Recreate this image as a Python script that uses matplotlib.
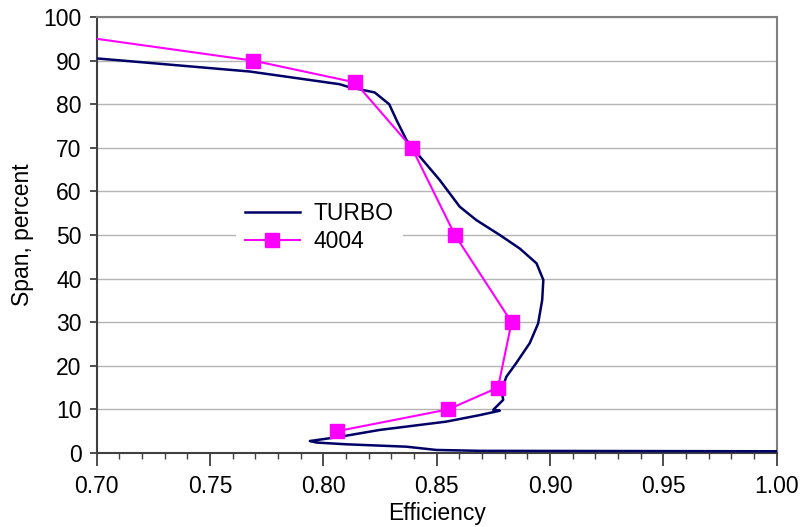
"""Spanwise efficiency: TURBO vs 4004."""

import matplotlib

matplotlib.use("Agg")
import matplotlib.pyplot as plt
from matplotlib.ticker import FormatStrFormatter, MultipleLocator

plt.rcParams["font.family"] = ["Liberation Sans", "DejaVu Sans"]

turbo_eff = [0.700, 0.7115, 0.7675, 0.807, 0.8115, 0.8226, 0.829, 0.8322,
             0.8366, 0.8425, 0.8513, 0.8601, 0.8675, 0.8778, 0.8866, 0.894,
             0.897, 0.8965, 0.8947, 0.891, 0.885, 0.8807, 0.8785, 0.8793,
             0.8749, 0.8778, 0.869, 0.8542, 0.8249, 0.807, 0.794, 0.797,
             0.810, 0.8366, 0.8498, 0.869, 1.000]
turbo_span = [90.5, 90.0, 87.5, 84.6, 83.9, 82.7, 80.0, 76.4,
              71.8, 68.0, 62.6, 56.5, 53.4, 50.0, 46.9, 43.5,
              39.7, 35.1, 29.7, 25.2, 20.6, 17.5, 14.4, 12.2,
              9.9, 9.7, 8.7, 7.2, 5.3, 3.7, 2.75, 2.4,
              2.0, 1.45, 0.7, 0.5, 0.4]

r4004_eff = [0.631, 0.769, 0.814, 0.839, 0.858, 0.883, 0.877, 0.855, 0.806]
r4004_span = [100, 90, 85, 70, 50, 30, 15, 10, 5]

fig = plt.figure(figsize=(8, 5.27), dpi=100)
ax = fig.add_axes([0.121, 0.1404, 0.850, 0.8273])

ax.plot(turbo_eff, turbo_span, color="#000066", lw=1.8, label="TURBO",
        zorder=3)
ax.plot(r4004_eff, r4004_span, color="#ff00ff", lw=1.5, marker="s",
        markersize=10.5, label="4004", zorder=4)

ax.set_xlim(0.70, 1.00)
ax.set_ylim(0, 100)
ax.xaxis.set_major_locator(MultipleLocator(0.05))
ax.xaxis.set_minor_locator(MultipleLocator(0.01))
ax.yaxis.set_major_locator(MultipleLocator(10))
ax.xaxis.set_major_formatter(FormatStrFormatter("%.2f"))

ax.grid(axis="y", color="#b4b4b4", lw=1.0)
ax.set_axisbelow(True)
for s in ax.spines.values():
    s.set_color("#808080")
    s.set_linewidth(1.5)
ax.spines["bottom"].set_color("#404040")
ax.spines["left"].set_color("#404040")

ax.tick_params(axis="x", which="major", direction="out", length=9,
               width=1.3, pad=7, labelsize=16.5, color="#404040")
ax.tick_params(axis="y", which="major", direction="out", length=5,
               width=1.3, pad=6, labelsize=16.5, color="#404040")
ax.tick_params(axis="x", which="minor", direction="out", length=4,
               width=1.0, color="#404040")

ax.set_xlabel("Efficiency", fontsize=16.5, labelpad=3)
ax.set_ylabel("Span, percent", fontsize=16.5, labelpad=7)

leg = ax.legend(loc="center left", bbox_to_anchor=(0.204, 0.517),
                frameon=True, fancybox=False, fontsize=16.5,
                handlelength=2.4, handletextpad=0.6, labelspacing=0.2,
                borderaxespad=0)
leg.get_frame().set_facecolor("white")
leg.get_frame().set_edgecolor("none")
leg.get_frame().set_alpha(1)

fig.savefig("out.png", dpi=100)
